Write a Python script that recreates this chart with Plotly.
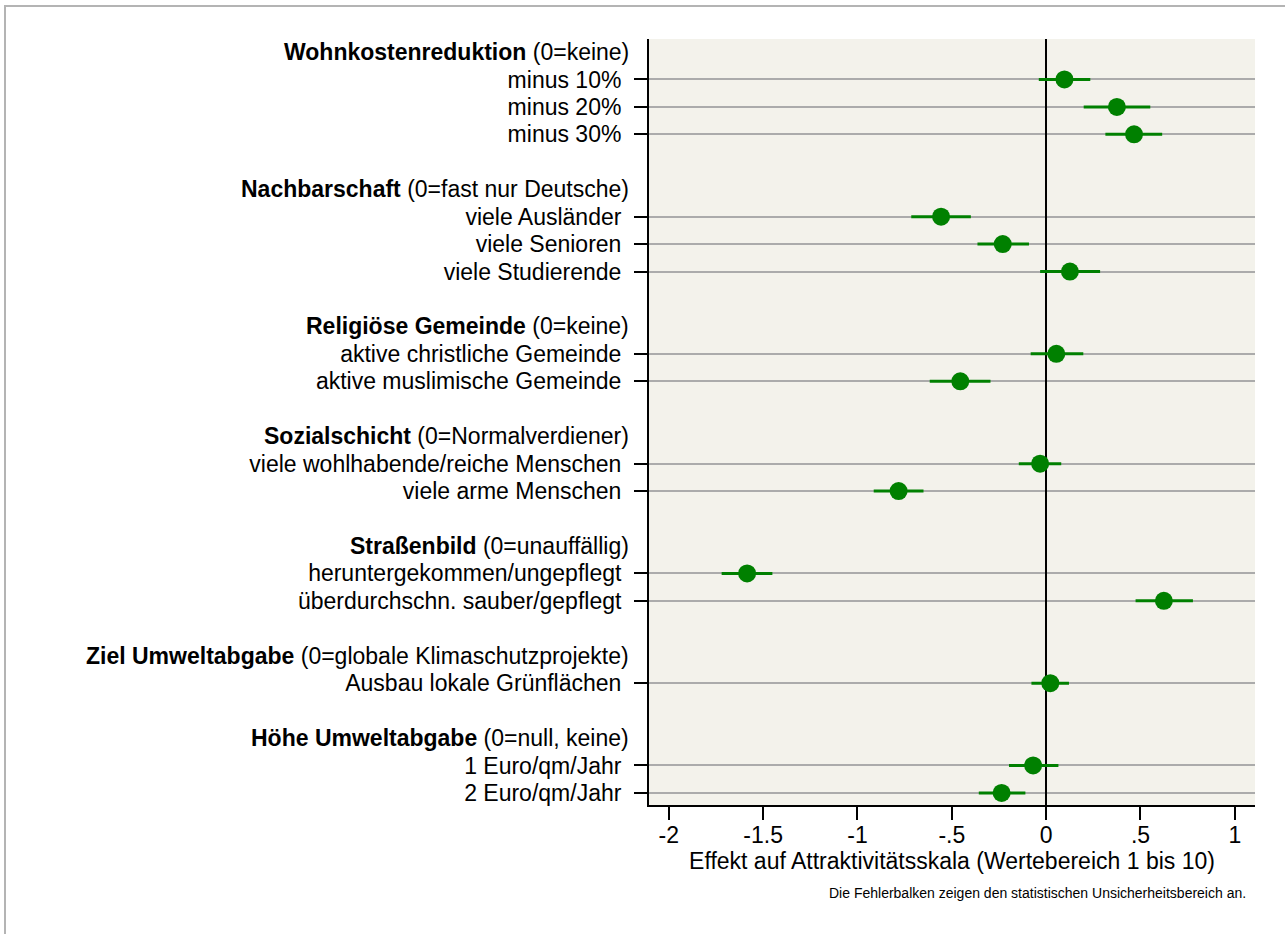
import plotly.graph_objects as go

# ---------------- data ----------------
group_titles = ["Wohnkostenreduktion", "Nachbarschaft", "Religiöse Gemeinde", "Sozialschicht",
                "Straßenbild", "Ziel Umweltabgabe", "Höhe Umweltabgabe"]
group_refs = ["(0=keine)", "(0=fast nur Deutsche)", "(0=keine)", "(0=Normalverdiener)",
              "(0=unauffällig)", "(0=globale Klimaschutzprojekte)", "(0=null, keine)"]
group_items = [
    ["minus 10%", "minus 20%", "minus 30%"],
    ["viele Ausländer", "viele Senioren", "viele Studierende"],
    ["aktive christliche Gemeinde", "aktive muslimische Gemeinde"],
    ["viele wohlhabende/reiche Menschen", "viele arme Menschen"],
    ["heruntergekommen/ungepflegt", "überdurchschn. sauber/gepflegt"],
    ["Ausbau lokale Grünflächen"],
    ["1 Euro/qm/Jahr", "2 Euro/qm/Jahr"],
]
estimates = [0.097, 0.375, 0.466,
             -0.557, -0.230, 0.126,
             0.054, -0.455,
             -0.032, -0.782,
             -1.585, 0.624,
             0.022,
             -0.069, -0.236]
ci_lower = [-0.039, 0.199, 0.314,
            -0.715, -0.364, -0.032,
            -0.082, -0.617,
            -0.145, -0.914,
            -1.720, 0.474,
            -0.078,
            -0.197, -0.357]
ci_upper = [0.234, 0.552, 0.615,
            -0.399, -0.091, 0.286,
            0.197, -0.295,
            0.080, -0.650,
            -1.451, 0.778,
            0.121,
            0.065, -0.110]
x_tickvals = [-2, -1.5, -1, -0.5, 0, 0.5, 1]
x_ticktext = ["-2", "-1.5", "-1", "-.5", "0", ".5", "1"]
x_title = "Effekt auf Attraktivitätsskala (Wertebereich 1 bis 10)"
note = "Die Fehlerbalken zeigen den statistischen Unsicherheitsbereich an."

# ---------------- row layout ----------------
heading_rows, item_rows, item_labels = [], [], []
r = 0
for items in group_items:
    heading_rows.append(r)
    r += 1
    for it in items:
        item_rows.append(r)
        item_labels.append(it)
        r += 1
    r += 1  # blank row

FONT = "Liberation Sans, Arial, Helvetica, sans-serif"
GREEN = "#008000"

fig = go.Figure()
fig.add_trace(go.Scatter(
    x=estimates, y=item_rows, mode="markers",
    marker=dict(color=GREEN, size=18, line=dict(width=0)),
    error_x=dict(type="data", symmetric=False,
                 array=[u - e for u, e in zip(ci_upper, estimates)],
                 arrayminus=[e - l for e, l in zip(estimates, ci_lower)],
                 color=GREEN, thickness=3, width=0),
    showlegend=False, hoverinfo="skip",
))

annotations = []
for row, t, ref in zip(heading_rows, group_titles, group_refs):
    annotations.append(dict(
        text=f"<b>{t}</b> {ref}", xref="paper", yref="y", x=0, y=row,
        xanchor="right", yanchor="middle", xshift=-18, showarrow=False,
        font=dict(family=FONT, size=23, color="black")))
annotations.append(dict(
    text=note, xref="paper", yref="paper", x=1, xshift=-7, y=-0.115,
    xanchor="right", yanchor="middle", showarrow=False,
    font=dict(family=FONT, size=14, color="black")))

W, H = 1285, 934
ml, mr, mt, mb = 649, 30, 39, 129
pw, ph = W - ml - mr, H - mt - mb


def px_x(p):
    return (p - ml) / pw


def px_y(p):
    return (H - mb - p) / ph


shapes = [
    dict(type="path", xref="paper", yref="paper",
         path=f"M {px_x(5)} {px_y(940)} L {px_x(5)} {px_y(6)} L {px_x(1295)} {px_y(6)}",
         line=dict(color="#B4B4B4", width=2), layer="below"),
]

fig.update_layout(
    width=W, height=H,
    margin=dict(l=ml, r=mr, t=mt, b=mb),
    paper_bgcolor="white", plot_bgcolor="#F3F2EB",
    font=dict(family=FONT, size=23, color="black"),
    annotations=annotations, shapes=shapes,
    xaxis=dict(range=[-2.105, 1.107], tickvals=x_tickvals, ticktext=x_ticktext,
               ticks="outside", ticklen=13, tickwidth=2, tickcolor="black",
               showline=True, linecolor="black", linewidth=2,
               showgrid=False, zeroline=True, zerolinecolor="black", zerolinewidth=1.5,
               title=dict(text=x_title, standoff=4, font=dict(size=23)),
               ticklabelstandoff=-5, tickfont=dict(size=23)),
    yaxis=dict(range=[27.44, -0.474], tickvals=item_rows, ticktext=item_labels,
               ticks="outside", ticklen=13, tickwidth=2, tickcolor="black",
               showline=True, linecolor="black", linewidth=2,
               showgrid=True, gridcolor="#ABABAB", gridwidth=1.5, zeroline=False,
               ticklabelstandoff=8, tickfont=dict(size=23)),
)

fig.write_html("out.html", config={"displayModeBar": False},
               post_script="document.body.style.margin='0';document.body.style.overflow='hidden';")
